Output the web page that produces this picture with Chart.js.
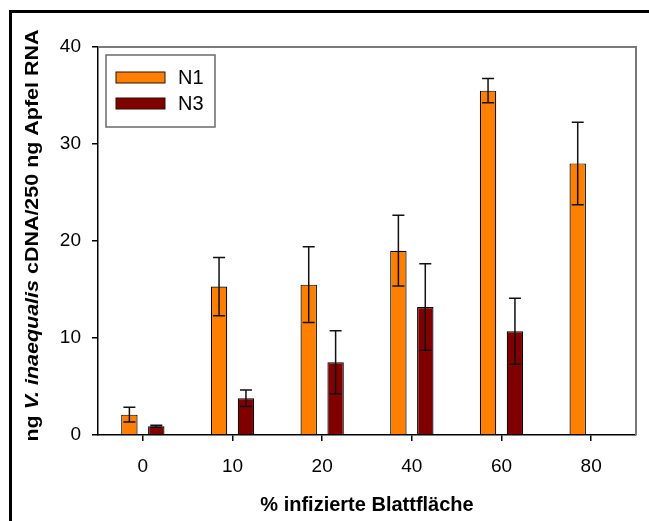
<!DOCTYPE html>
<html lang="de">
<head>
<meta charset="UTF-8">
<title>V. inaequalis cDNA</title>
<script src="https://cdn.jsdelivr.net/npm/chart.js"></script>
<style>
  html, body { margin: 0; padding: 0; background: #fff; overflow: hidden; }
  #wrap { position: relative; width: 649px; height: 521px; overflow: hidden; }
  #frame { position: absolute; left: 9px; top: 10px; width: 700px; height: 600px; border: 3px solid #000; }
  #chart { position: absolute; left: 0; top: 0; }
</style>
</head>
<body>
<div id="wrap">
  <div id="frame"></div>
  <canvas id="chart" width="649" height="521"></canvas>
</div>
<script>
  // data
  const categories = ['0', '10', '20', '40', '60', '80'];
  const n1Values = [2.1, 15.3, 15.5, 19.0, 35.5, 28.0];
  const n1Errors = [0.75, 3.0, 3.9, 3.65, 1.25, 4.25];
  const n3Values = [0.9, 3.8, 7.5, 13.2, 10.7, null];
  const n3Errors = [0.1, 0.85, 3.25, 4.45, 3.4, null];
  const yTicks = [0, 10, 20, 30, 40];

  const FONT = "'Liberation Sans', Arial, Helvetica, sans-serif";
  const errors = [n1Errors, n3Errors];

  // error bars, legend box, grey frame and axis titles
  const extras = {
    id: 'extras',
    afterDatasetsDraw(chart) {
      const ctx = chart.ctx;
      const y = chart.scales.y;
      const area = chart.chartArea;

      // error bars
      ctx.save();
      ctx.strokeStyle = '#111';
      ctx.lineWidth = 1.5;
      chart.data.datasets.forEach((ds, i) => {
        const meta = chart.getDatasetMeta(i);
        ds.data.forEach((v, j) => {
          const e = errors[i][j];
          if (v === null || e === null) return;
          const x = meta.data[j].x;
          const top = y.getPixelForValue(v + e);
          const bot = y.getPixelForValue(v - e);
          ctx.beginPath();
          ctx.moveTo(x, top); ctx.lineTo(x, bot);
          ctx.moveTo(x - 6, top); ctx.lineTo(x + 6, top);
          ctx.moveTo(x - 6, bot); ctx.lineTo(x + 6, bot);
          ctx.stroke();
        });
      });
      ctx.restore();

      // grey frame top + right
      ctx.save();
      ctx.strokeStyle = '#7a7a7a';
      ctx.lineWidth = 2;
      ctx.beginPath();
      ctx.moveTo(area.left, area.top);
      ctx.lineTo(area.right, area.top);
      ctx.lineTo(area.right, area.bottom);
      ctx.stroke();
      ctx.restore();

      // legend
      const lx = area.left + 8, ly = area.top + 8;
      ctx.save();
      ctx.strokeStyle = '#6a6a6a';
      ctx.lineWidth = 1.5;
      ctx.strokeRect(lx, ly, 109, 72);
      ctx.font = '20px ' + FONT;
      ctx.textBaseline = 'middle';
      chart.data.datasets.forEach((ds, i) => {
        const sy = ly + 17 + i * 26;
        ctx.fillStyle = ds.backgroundColor;
        ctx.fillRect(lx + 10, sy, 49, 11);
        ctx.strokeStyle = '#2a1000';
        ctx.lineWidth = 1;
        ctx.strokeRect(lx + 10, sy, 49, 11);
        ctx.fillStyle = '#000';
        ctx.fillText(ds.label, lx + 72, sy + 6);
      });
      ctx.restore();

      // x title
      ctx.save();
      ctx.fillStyle = '#000';
      ctx.font = 'bold 20px ' + FONT;
      ctx.textAlign = 'center';
      ctx.textBaseline = 'middle';
      ctx.fillText('% infizierte Blattfläche', (area.left + area.right) / 2, 505);
      ctx.restore();

      // y title with italic species name
      const parts = [
        ['ng ', 'bold 18px ' + FONT],
        ['V. inaequalis', 'italic bold 18px ' + FONT],
        [' cDNA/250 ng Apfel RNA', 'bold 18px ' + FONT]
      ];
      ctx.save();
      let total = 0;
      parts.forEach(p => { ctx.font = p[1]; total += ctx.measureText(p[0]).width; });
      const target = 412;
      ctx.translate(37.5, 235.5);
      ctx.rotate(-Math.PI / 2);
      ctx.scale(target / total, 1);
      ctx.fillStyle = '#000';
      ctx.textBaseline = 'alphabetic';
      let px = -total / 2;
      parts.forEach(p => {
        ctx.font = p[1];
        ctx.fillText(p[0], px, 0);
        px += ctx.measureText(p[0]).width;
      });
      ctx.restore();
    }
  };

  new Chart(document.getElementById('chart'), {
    type: 'bar',
    data: {
      labels: categories,
      datasets: [
        { label: 'N1', data: n1Values, backgroundColor: '#ff8000', borderColor: '#000', borderWidth: 1.2 },
        { label: 'N3', data: n3Values, backgroundColor: '#800000', borderColor: '#000', borderWidth: 1.2 }
      ]
    },
    options: {
      responsive: false,
      animation: false,
      events: [],
      categoryPercentage: 0.6,
      barPercentage: 0.61,
      layout: { padding: { top: 47, right: 13, left: 0, bottom: 0 } },
      plugins: { legend: { display: false }, tooltip: { enabled: false } },
      scales: {
        x: {
          afterFit(scale) { scale.height = 86; },
          grid: { drawOnChartArea: false, offset: false, tickLength: 6, color: '#000', lineWidth: 1.5 },
          border: { color: '#000', width: 1.5 },
          ticks: { color: '#000', padding: 14, font: { family: FONT, size: 19 } }
        },
        y: {
          min: 0, max: 40,
          afterFit(scale) { scale.width = 98; },
          afterBuildTicks(scale) { scale.ticks = yTicks.map(v => ({ value: v })); },
          grid: { drawOnChartArea: false, tickLength: 6, color: '#000', lineWidth: 1.5 },
          border: { color: '#000', width: 1.5 },
          ticks: { color: '#000', padding: 11, font: { family: FONT, size: 19 } }
        }
      }
    },
    plugins: [extras]
  });
</script>
</body>
</html>
